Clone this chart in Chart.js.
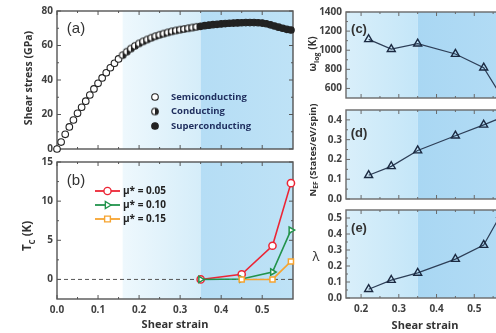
<!DOCTYPE html>
<html>
<head>
<meta charset="utf-8">
<script src="https://cdn.jsdelivr.net/npm/chart.js@4.4.1/dist/chart.umd.min.js"></script>
<style>
    body { margin: 0; background: #fff; }
    #fig { position: relative; width: 496px; height: 333px; overflow: hidden; font-family: 'Open Sans', sans-serif; }
    #fig canvas { position: absolute; }
    .tit { position: absolute; white-space: nowrap; font-weight: bold; color: #333; transform: translate(-50%, -50%); }
    .rot { transform: translate(-50%, -50%) rotate(-90deg); }
    .tit sub { font-size: 0.7em; }
    .lbl { position: absolute; color: #333; transform: translate(-50%, -50%); font-family: 'Liberation Sans', Arial, sans-serif; }
</style>
</head>
<body>
<div id="fig">
    <canvas id="cA" width="300" height="160" style="left:0;top:0"></canvas>
    <canvas id="cB" width="300" height="181" style="left:0;top:152px"></canvas>
    <canvas id="cC" width="230" height="108" style="left:296px;top:0"></canvas>
    <canvas id="cD" width="230" height="111" style="left:296px;top:100px"></canvas>
    <canvas id="cE" width="230" height="133" style="left:296px;top:200px"></canvas>

    <div class="tit rot" style="left:28px;top:78px;font-size:10.5px">Shear stress (GPa)</div>
    <div class="tit rot" style="left:28px;top:236px;font-size:11.5px">T<sub>C</sub> (K)</div>
    <div class="tit" style="left:175px;top:323px;font-size:11px">Shear strain</div>
    <div class="tit rot" style="left:313px;top:54px;font-size:10px">ω<sub>log</sub> (K)</div>
    <div class="tit rot" style="left:313px;top:150px;font-size:9.5px">N<sub>EF</sub> (States/eV/spin)</div>
    <div class="tit" style="left:316px;top:256px;font-size:13px;font-weight:normal">λ</div>
    <div class="tit" style="left:425px;top:324px;font-size:11px">Shear strain</div>

    <div class="lbl" style="left:76px;top:27px;font-size:15px">(a)</div>
    <div class="lbl" style="left:76px;top:179px;font-size:15px">(b)</div>
    <div class="lbl" style="left:359px;top:28px;font-size:13px;font-weight:bold">(c)</div>
    <div class="lbl" style="left:359px;top:132px;font-size:13px;font-weight:bold">(d)</div>
    <div class="lbl" style="left:359px;top:227px;font-size:13px;font-weight:bold">(e)</div>
</div>

<script>
// datos panel (a): curva esfuerzo-deformacion
const strainA = [0.00, 0.01, 0.02, 0.03, 0.04, 0.05, 0.06, 0.07, 0.08, 0.09,
                 0.10, 0.11, 0.12, 0.13, 0.14, 0.15, 0.16, 0.17, 0.18, 0.19,
                 0.20, 0.21, 0.22, 0.23, 0.24, 0.25, 0.26, 0.27, 0.28, 0.29,
                 0.30, 0.31, 0.32, 0.33, 0.34, 0.35, 0.36, 0.37, 0.38, 0.39,
                 0.40, 0.41, 0.42, 0.43, 0.44, 0.45, 0.46, 0.47, 0.48, 0.49,
                 0.50, 0.51, 0.52, 0.53, 0.54, 0.55, 0.56, 0.57];
const stressA = [0, 4, 8.5, 12.8, 16.8, 20.7, 24.2, 27.7, 31.3, 34.8,
                 38.1, 41.2, 44.2, 47.1, 49.7, 52.2, 54.4, 56.4, 58.2, 59.8,
                 61.2, 62.4, 63.5, 64.5, 65.4, 66.2, 66.9, 67.6, 68.2, 68.7,
                 69.2, 69.6, 70.0, 70.4, 70.8, 71.1, 71.5, 71.8, 72.1, 72.3,
                 72.5, 72.7, 72.9, 73.0, 73.1, 73.2, 73.3, 73.3, 73.3, 73.2,
                 73.0, 72.6, 72.0, 71.3, 70.6, 70.0, 69.4, 69.0];
const phaseEdges = [0.155, 0.345];   // semiconductor | conductor | superconductor
const phaseNames = ['Semiconducting', 'Conducting', 'Superconducting'];
const shadeEdges = [0.16, 0.35];

// datos panel (b): Tc
const strainB = [0.35, 0.45, 0.525, 0.57];
const tc005 = [0, 0.65, 4.3, 12.3];
const tc010 = [0, 0.05, 0.95, 6.3];
const tc015 = [null, 0, 0, 2.3];
const muLabels = ['μ* = 0.05', 'μ* = 0.10', 'μ* = 0.15'];

// datos paneles (c)-(e)
const strainDft = [0.22, 0.28, 0.35, 0.45, 0.525, 0.57];
const omegaLog = [1114, 1011, 1069, 960, 817, 530];
const nEf = [0.12, 0.165, 0.245, 0.32, 0.375, 0.41];
const lambda = [0.055, 0.112, 0.157, 0.243, 0.331, 0.52];

// ticks
const ticksLeftX = [0, 0.1, 0.2, 0.3, 0.4, 0.5];
const ticksRightX = [0.2, 0.3, 0.4, 0.5, 0.6];
const ticksA = [0, 20, 40, 60, 80];
const ticksB = [0, 5, 10, 15];
const ticksC = [600, 800, 1000, 1200, 1400];
const ticksD = [0, 0.1, 0.2, 0.3, 0.4];
const ticksE = [0, 0.1, 0.2, 0.3, 0.4, 0.5];

Chart.defaults.font.family = "'Open Sans', sans-serif";
Chart.defaults.font.size = 10;
Chart.defaults.font.weight = 'bold';
Chart.defaults.color = '#404040';
Chart.defaults.animation = false;

const RED = '#ec2535', GREEN = '#22934c', ORANGE = '#f6a430';
const uno = v => String(v);
const dec = v => v.toFixed(1);

// fondo azul, marco y ticks hacia dentro
const marco = {
    id: 'marco',
    beforeDraw(chart, args, opts) {
        const { ctx, chartArea: a, scales } = chart;
        ctx.save();
        (opts.zonas || []).forEach(z => {
            const x1 = Math.max(scales.x.getPixelForValue(z.desde), a.left);
            const x2 = Math.min(scales.x.getPixelForValue(z.hasta), a.right);
            const g = ctx.createLinearGradient(x1, 0, x2, 0);
            g.addColorStop(0, z.c1);
            g.addColorStop(1, z.c2);
            ctx.fillStyle = g;
            ctx.fillRect(x1, a.top, x2 - x1, a.bottom - a.top);
        });
        ctx.restore();
    },
    beforeDatasetsDraw(chart, args, opts) {
        const { ctx, chartArea: a, scales } = chart;
        ctx.save();
        ctx.strokeStyle = opts.color || '#555';
        ctx.lineWidth = 1;
        const linea = (x1, y1, x2, y2) => { ctx.beginPath(); ctx.moveTo(x1, y1); ctx.lineTo(x2, y2); ctx.stroke(); };
        const marcas = sc => {
            const v = sc.ticks.map(t => t.value), out = [];
            v.forEach((t, i) => {
                out.push([t, 4]);
                if (i < v.length - 1) out.push([(t + v[i + 1]) / 2, 2]);
            });
            return out;
        };
        marcas(scales.x).forEach(([v, l]) => {
            const p = scales.x.getPixelForValue(v);
            if (p < a.left || p > a.right) return;
            linea(p, a.bottom, p, a.bottom - l);
            linea(p, a.top, p, a.top + l);
        });
        marcas(scales.y).forEach(([v, l]) => {
            const p = scales.y.getPixelForValue(v);
            if (p < a.top || p > a.bottom) return;
            linea(a.left, p, a.left + l, p);
            linea(a.right, p, a.right - l, p);
        });
        ctx.lineWidth = 1.4;
        ctx.strokeRect(a.left, a.top, a.right - a.left, a.bottom - a.top);
        ctx.restore();
    }
};
Chart.register(marco);

function ejeX(min, max, valores, alto, mostrar) {
    return {
        type: 'linear', min, max,
        afterBuildTicks: s => { s.ticks = valores.map(v => ({ value: v })); },
        afterFit: s => { s.height = alto; },
        grid: { display: false, drawTicks: false },
        border: { display: false },
        ticks: { display: mostrar, padding: 5, maxRotation: 0, autoSkip: false, callback: dec }
    };
}

function ejeY(min, max, valores, ancho, fmt) {
    return {
        type: 'linear', min, max,
        afterBuildTicks: s => { s.ticks = valores.map(v => ({ value: v })); },
        afterFit: s => { s.width = ancho; },
        grid: { display: false, drawTicks: false },
        border: { display: false },
        ticks: { padding: 4, autoSkip: false, callback: fmt }
    };
}

const zonasIzq = [
    { desde: shadeEdges[0], hasta: shadeEdges[1], c1: '#eef8fd', c2: '#d5edf9' },
    { desde: shadeEdges[1], hasta: 1, c1: '#b5ddf5', c2: '#bee2f6' }
];
const zonasDer = [
    { desde: 0, hasta: shadeEdges[1], c1: '#d9effa', c2: '#c4e6f8' },
    { desde: shadeEdges[1], hasta: 1, c1: '#a9d7f3', c2: '#b3dcf5' }
];

// marcador medio relleno
function medioCirculo(r) {
    const c = document.createElement('canvas');
    const s = Math.ceil(r * 2 + 3);
    c.width = c.height = s;
    const g = c.getContext('2d');
    const m = s / 2;
    g.fillStyle = '#fff';
    g.beginPath(); g.arc(m, m, r, 0, Math.PI * 2); g.fill();
    g.fillStyle = '#222';
    g.beginPath(); g.arc(m, m, r, -Math.PI / 2, Math.PI / 2); g.fill();
    g.strokeStyle = '#222'; g.lineWidth = 1.1;
    g.beginPath(); g.arc(m, m, r, 0, Math.PI * 2); g.stroke();
    return c;
}
const medio = medioCirculo(3.3);

function fase(x) {
    if (x < phaseEdges[0]) return 0;
    if (x < phaseEdges[1]) return 1;
    return 2;
}

function dibujarMarcador(ctx, tipo, x, y, color, r) {
    ctx.save();
    ctx.strokeStyle = color;
    ctx.lineWidth = 1.4;
    ctx.fillStyle = '#fff';
    ctx.beginPath();
    if (tipo === 'circle') ctx.arc(x, y, r, 0, Math.PI * 2);
    else if (tipo === 'tri') { ctx.moveTo(x + r, y); ctx.lineTo(x - r * 0.6, y - r); ctx.lineTo(x - r * 0.6, y + r); ctx.closePath(); }
    else ctx.rect(x - r * 0.8, y - r * 0.8, r * 1.6, r * 1.6);
    ctx.fill();
    ctx.stroke();
    ctx.restore();
}

// panel (a)
new Chart(document.getElementById('cA'), {
    type: 'scatter',
    data: {
        datasets: [{
            data: strainA.map((x, i) => ({ x, y: stressA[i] })),
            clip: false,
            pointRadius: 3.3,
            pointBorderWidth: 1.1,
            pointBorderColor: '#222',
            pointStyle: c => (c.raw && fase(c.raw.x) === 1) ? medio : 'circle',
            pointBackgroundColor: c => (c.raw && fase(c.raw.x) === 2) ? '#222' : '#fff'
        }]
    },
    options: {
        responsive: false,
        layout: { padding: { top: 11, right: 7, bottom: 11, left: 0 } },
        plugins: { legend: { display: false }, tooltip: { enabled: false }, marco: { zonas: zonasIzq } },
        scales: {
            x: ejeX(0, 0.575, ticksLeftX, 0, false),
            y: ejeY(0, 80, ticksA, 57, uno)
        }
    },
    plugins: [{
        id: 'leyendaA',
        afterDraw(chart) {
            const ctx = chart.ctx;
            const filas = [97, 111.5, 126];
            ctx.save();
            ctx.font = "bold 9.5px 'Open Sans', sans-serif";
            ctx.textBaseline = 'middle';
            phaseNames.forEach((t, i) => {
                const y = filas[i];
                if (i === 1) {
                    ctx.drawImage(medio, 155 - medio.width / 2, y - medio.height / 2);
                } else {
                    ctx.beginPath();
                    ctx.arc(155, y, 3.3, 0, Math.PI * 2);
                    ctx.fillStyle = i === 2 ? '#222' : '#fff';
                    ctx.fill();
                    ctx.strokeStyle = '#222';
                    ctx.lineWidth = 1.1;
                    ctx.stroke();
                }
                ctx.fillStyle = '#1f2e5e';
                ctx.fillText(t, 171, y);
            });
            ctx.restore();
        }
    }]
});

// panel (b)
function serieTc(vals, color, estilo, rot, orden) {
    return {
        data: strainB.map((x, i) => ({ x, y: vals[i] })).filter(p => p.y !== null),
        showLine: true,
        borderColor: color,
        borderWidth: 1.6,
        pointStyle: estilo,
        rotation: rot,
        pointRadius: 3.6,
        pointBorderWidth: 1.5,
        pointBorderColor: color,
        pointBackgroundColor: '#fff',
        clip: false,
        order: orden
    };
}
new Chart(document.getElementById('cB'), {
    type: 'scatter',
    data: {
        datasets: [
            {
                data: [{ x: 0, y: 0 }, { x: 0.575, y: 0 }],
                showLine: true,
                borderColor: '#555',
                borderWidth: 1,
                borderDash: [4, 3],
                pointRadius: 0,
                order: 9
            },
            serieTc(tc005, RED, 'circle', 0, 3),
            serieTc(tc010, GREEN, 'triangle', 90, 2),
            serieTc(tc015, ORANGE, 'rect', 0, 1)
        ]
    },
    options: {
        responsive: false,
        layout: { padding: { top: 10, right: 7, bottom: 0, left: 0 } },
        plugins: { legend: { display: false }, tooltip: { enabled: false }, marco: { zonas: zonasIzq } },
        scales: {
            x: ejeX(0, 0.575, ticksLeftX, 34, true),
            y: ejeY(-2.5, 15, ticksB, 57, uno)
        }
    },
    plugins: [{
        id: 'leyendaB',
        afterDraw(chart) {
            const ctx = chart.ctx;
            const filas = [39, 53, 67];
            const colores = [RED, GREEN, ORANGE];
            const tipos = ['circle', 'tri', 'rect'];
            ctx.save();
            ctx.font = "bold 10px 'Open Sans', sans-serif";
            ctx.textBaseline = 'middle';
            muLabels.forEach((t, i) => {
                const y = filas[i];
                ctx.strokeStyle = colores[i];
                ctx.lineWidth = 1.8;
                ctx.beginPath(); ctx.moveTo(95, y); ctx.lineTo(120, y); ctx.stroke();
                dibujarMarcador(ctx, tipos[i], 107.5, y, colores[i], 3.6);
                ctx.fillStyle = '#222';
                ctx.fillText(t, 123, y);
            });
            ctx.restore();
        }
    }]
});

// paneles (c), (d), (e)
function panelDft(id, vals, yMin, yMax, ticks, fmt, top, bottom, altoX) {
    new Chart(document.getElementById(id), {
        type: 'scatter',
        data: {
            datasets: [{
                data: strainDft.map((x, i) => ({ x, y: vals[i] })),
                showLine: true,
                borderColor: '#2d3e57',
                borderWidth: 1.2,
                pointStyle: 'triangle',
                pointRadius: 4.6,
                pointBorderWidth: 1.4,
                pointBorderColor: '#1b2a42',
                pointBackgroundColor: 'rgba(255,255,255,0)'
            }]
        },
        options: {
            responsive: false,
            layout: { padding: { top, right: 14, bottom, left: 0 } },
            plugins: { legend: { display: false }, tooltip: { enabled: false }, marco: { zonas: zonasDer, color: '#6a6a6a' } },
            scales: {
                x: ejeX(0.16, 0.6, ticksRightX, altoX, altoX > 0),
                y: ejeY(yMin, yMax, ticks, 50, fmt)
            }
        }
    });
}
panelDft('cC', omegaLog, 500, 1400, ticksC, uno, 12, 8, 0);
panelDft('cD', nEf, 0, 0.45, ticksD, dec, 10, 12, 0);
panelDft('cE', lambda, 0, 0.55, ticksE, dec, 10, 0, 35);
</script>
</body>
</html>
